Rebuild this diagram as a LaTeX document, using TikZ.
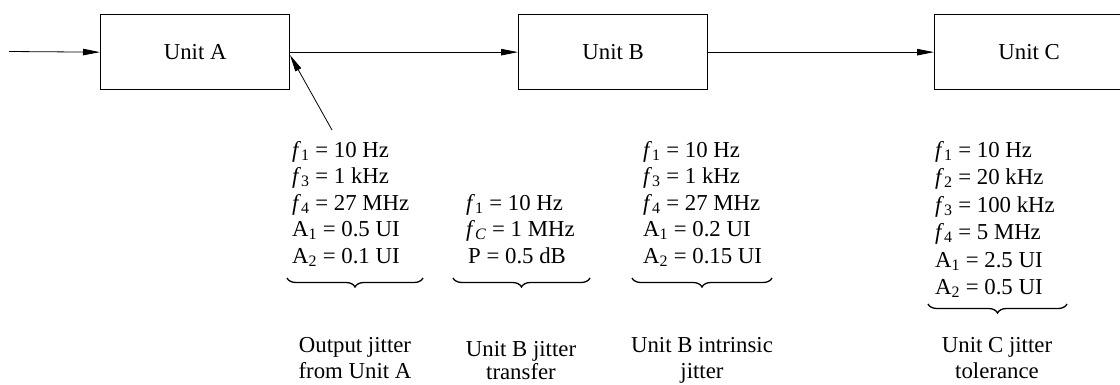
\documentclass[tikz,border=0pt]{standalone}
\usepackage{fontspec}
\setmainfont{Liberation Serif}
\usetikzlibrary{arrows.meta,decorations.pathreplacing}
\newcommand\fsub[1]{\textit{f}\textsubscript{#1}}
\newcommand\asub[1]{A\textsubscript{#1}}
\tikzset{
  unitbox/.style={draw,line width=1.3pt,minimum width=189pt,minimum height=75pt,inner sep=0pt,anchor=north west},
  conn/.style={line width=0.8pt,-{Triangle[length=17pt,width=6.5pt]}},
  txt/.style={anchor=base west,inner sep=0pt},
  captxt/.style={anchor=base,inner sep=0pt},
  brc/.style={decorate,decoration={brace,mirror,amplitude=9pt},line width=1.3pt}
}
\begin{document}
\begin{tikzpicture}[x=1pt,y=-1pt,font=\fontsize{22.8}{27}\selectfont]
\useasboundingbox (0,0) rectangle (1120,384);
\node[unitbox] (A) at (100,14) {Unit A};
\node[unitbox] (B) at (518,14) {Unit B};
\node[unitbox,minimum width=200pt] (C) at (934,14) {\hspace*{-11pt}Unit C};
\coordinate (in) at (9,51.5);
\coordinate (tail) at (332,130);
\draw[conn] (in) -- (A.west);
\draw[conn] (A.east) -- (B.west);
\draw[conn] (B.east) -- (C.west);
\coordinate (tip) at (290,55);
\draw[conn] (tail) -- (tip);
% block 1
\node[txt] (a1) at (292,157) {\fsub{1} = 10 Hz};
\node[txt] (a2) at (292,183.5) {\fsub{3} = 1 kHz};
\node[txt] (a3) at (292,210) {\fsub{4} = 27 MHz};
\node[txt] (a4) at (292,236.5) {\asub{1} = 0.5 UI};
\node[txt] (a5) at (292,263) {\asub{2} = 0.1 UI};
\coordinate (b1l) at (287,278);
\coordinate (b1r) at (423,278);
\draw[brc] (b1l) -- (b1r);
\node[captxt] (c1a) at (355,352) {Output jitter};
\node[captxt] (c1b) at (355,378) {from Unit A};
% block 2
\node[txt] (b1) at (466,210) {\fsub{1} = 10 Hz};
\node[txt] (b2) at (466,236.5) {\fsub{\textit{C}} = 1 MHz};
\node[txt] (b3) at (468,263) {P = 0.5 dB};
\coordinate (b2l) at (453,278);
\coordinate (b2r) at (590,278);
\draw[brc] (b2l) -- (b2r);
\node[captxt] (c2a) at (521,356) {Unit B jitter};
\node[captxt] (c2b) at (521,379) {transfer};
% block 3
\node[txt] (d1) at (643,157) {\fsub{1} = 10 Hz};
\node[txt] (d2) at (643,183.5) {\fsub{3} = 1 kHz};
\node[txt] (d3) at (643,210) {\fsub{4} = 27 MHz};
\node[txt] (d4) at (643,236.5) {\asub{1} = 0.2 UI};
\node[txt] (d5) at (643,263) {\asub{2} = 0.15 UI};
\coordinate (b3l) at (632,278);
\coordinate (b3r) at (772,278);
\draw[brc] (b3l) -- (b3r);
\node[captxt] (c3a) at (702,352) {Unit B intrinsic};
\node[captxt] (c3b) at (702,378) {jitter};
% block 4
\node[txt] (e1) at (935,157) {\fsub{1} = 10 Hz};
\node[txt] (e2) at (935,184.5) {\fsub{2} = 20 kHz};
\node[txt] (e3) at (935,212) {\fsub{3} = 100 kHz};
\node[txt] (e4) at (935,239.5) {\fsub{4} = 5 MHz};
\node[txt] (e5) at (935,267) {\asub{1} = 2.5 UI};
\node[txt] (e6) at (935,294.5) {\asub{2} = 0.5 UI};
\coordinate (b4l) at (928,304);
\coordinate (b4r) at (1067,304);
\draw[brc] (b4l) -- (b4r);
\node[captxt] (c4a) at (997,352) {Unit C jitter};
\node[captxt] (c4b) at (997,378) {tolerance};
\end{tikzpicture}
\end{document}
